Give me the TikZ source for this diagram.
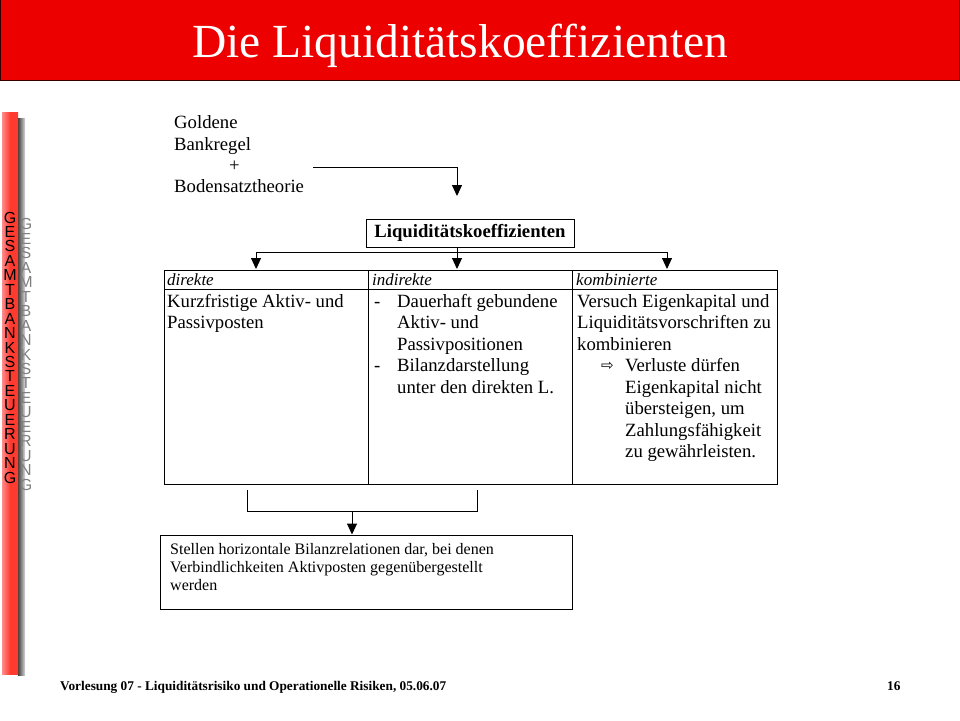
\documentclass[tikz,border=0pt]{standalone}
\usepackage{fontspec}
\setmainfont{Liberation Serif}
\newfontfamily\arialfont{Liberation Sans}
\newfontfamily\symfont{DejaVu Sans}
\usetikzlibrary{arrows.meta}
\definecolor{hdrred}{HTML}{EC0000}
\definecolor{barred}{HTML}{FF3A2E}
\tikzset{
  tip/.style={-{Triangle[width=10pt,length=11pt]}},
  conn/.style={line width=1pt},
  boxline/.style={draw, line width=1pt},
  txt/.style={anchor=base west, inner sep=0pt, font=\fontsize{18.7}{21.5}\selectfont},
  hdr/.style={anchor=base west, inner sep=0pt, font=\fontsize{17}{20}\selectfont\itshape},
  small/.style={anchor=base west, inner sep=0pt, font=\fontsize{16}{18}\selectfont},
  foot/.style={anchor=base west, inner sep=0pt, font=\fontsize{13.3}{15}\selectfont\bfseries},
  vletter/.style={inner sep=0pt, font=\fontsize{16}{16}\selectfont\arialfont},
}
\begin{document}
\begin{tikzpicture}[x=1pt,y=-1pt]
\useasboundingbox (0,0) rectangle (960,720);
\fill[white] (0,0) rectangle (960,720);
% header
\fill[hdrred] (0,0) rectangle (959,80);
\draw[black!80!red, line width=1pt] (0.5,0) -- (0.5,80) -- (959.5,80) -- (959.5,0);
\node[text=white, inner sep=0pt, font=\fontsize{47.5}{50}\selectfont] (title) at (460,46) {Die Liquiditätskoeffizienten};
% side bar
\shade[left color=black!75, right color=black!15] (18,118) rectangle (25,675);
\shade[left color=red!45!white, right color=barred, middle color=barred] (2,112) rectangle (18,674);
\foreach \L [count=\i] in {G,E,S,A,M,T,B,A,N,K,S,T,E,U,E,R,U,N,G}{
  \node[vletter, text=black!50] at (26,{210+14.45*\i}) {\L};
  \node[vletter, text=black] at (10,{204.5+14.45*(\i-1)+13}) {\L};
}
% top texts
\node[txt] (gold) at (174,128) {Goldene};
\node[txt] (bank) at (174,150) {Bankregel};
\node[txt] (plus) at (229,171) {+};
\node[txt] (boden) at (174,192) {Bodensatztheorie};
\coordinate (srcR) at (313,167.5);
\coordinate (c1) at (457,167.5);
\coordinate (c1t) at (457,196);
\draw[conn,tip] (srcR) -- (c1) -- (c1t);
% Liquiditaetskoeffizienten box
\node[boxline, minimum width=208pt, minimum height=28pt, inner sep=0pt,
      font=\fontsize{18.7}{20}\selectfont\bfseries] (lk) at (470,233) {Liquiditätskoeffizienten};
% table
\coordinate (tl) at (164,270);
\coordinate (br) at (777,484);
\draw[line width=1pt] (tl) rectangle (br);
\draw[line width=1pt] (164,289) -- (777,289);
\draw[line width=1pt] (368,270) -- (368,484);
\draw[line width=1pt] (572,270) -- (572,484);
% distribution arrows
\coordinate (dL) at (256,252);
\coordinate (dR) at (667,252);
\coordinate (dLt) at (256,269);
\coordinate (dRt) at (667,269);
\coordinate (dMt) at (457,269);
\draw[conn] (dL) -- (dR);
\draw[conn,tip] (dL) -- (dLt);
\draw[conn,tip] (dR) -- (dRt);
\draw[conn,tip] (lk.south -| dMt) -- (dMt);
% headers
\node[hdr] (h1) at (167,285.5) {direkte};
\node[hdr] (h2) at (372,285.5) {indirekte};
\node[hdr] (h3) at (576,285.5) {kombinierte};
% column 1
\node[txt] at (167,307) {Kurzfristige Aktiv- und};
\node[txt] at (167,328.5) {Passivposten};
% column 2
\node[txt] at (374,307) {-};
\node[txt] at (397,307) {Dauerhaft gebundene};
\node[txt] at (397,328.5) {Aktiv- und};
\node[txt] at (397,350) {Passivpositionen};
\node[txt] at (374,371.5) {-};
\node[txt] at (397,371.5) {Bilanzdarstellung};
\node[txt] at (397,393) {unter den direkten L.};
% column 3
\node[txt] at (577,307) {Versuch Eigenkapital und};
\node[txt] at (577,328.5) {Liquiditätsvorschriften zu};
\node[txt] at (577,350) {kombinieren};
\node[anchor=base west, inner sep=0pt, font=\fontsize{15}{16}\selectfont\symfont] at (601,370) {⇨};
\node[txt] at (625,371.5) {Verluste dürfen};
\node[txt] at (625,393) {Eigenkapital nicht};
\node[txt] at (625,414.5) {übersteigen, um};
\node[txt] at (625,436) {Zahlungsfähigkeit};
\node[txt] at (625,457.5) {zu gewährleisten.};
% lower bracket
\coordinate (bL) at (247,490);
\coordinate (bR) at (477,490);
\coordinate (bLb) at (247,511.5);
\coordinate (bRb) at (477,511.5);
\coordinate (bM) at (352,511.5);
\draw[conn] (bL) -- (bLb) -- (bRb) -- (bR);
% bottom box
\node[boxline, minimum width=412pt, minimum height=74pt, inner sep=0pt] (bot) at (366,572) {};
\draw[conn,tip] (bM) -- (bM |- bot.north);
\node[small] at (170,554) {Stellen horizontale Bilanzrelationen dar, bei denen};
\node[small] at (170,572) {Verbindlichkeiten Aktivposten gegenübergestellt};
\node[small] at (170,590) {werden};
% footer
\node[foot] (ft) at (60,690) {Vorlesung 07 - Liquiditätsrisiko und Operationelle Risiken, 05.06.07};
\node[foot] (pg) at (887,690) {16};
\end{tikzpicture}
\end{document}
